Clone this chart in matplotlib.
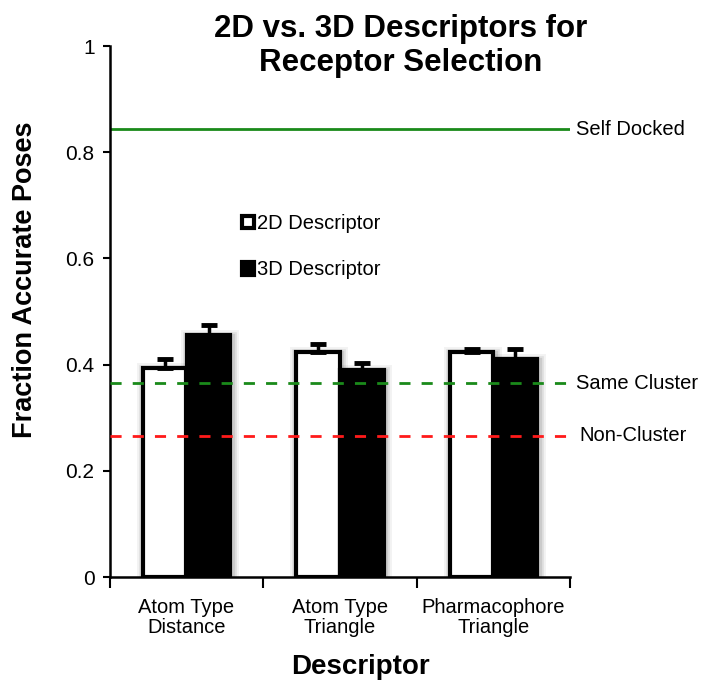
import matplotlib
matplotlib.use("Agg")
import matplotlib.pyplot as plt
from matplotlib.patches import Patch
import numpy as np

plt.rcParams["font.family"] = ["Liberation Sans", "DejaVu Sans"]

categories = ["Atom Type\nDistance", "Atom Type\nTriangle", "Pharmacophore\nTriangle"]
vals_2d = [0.394, 0.424, 0.424]
err_2d = [0.016, 0.015, 0.005]
vals_3d = [0.456, 0.390, 0.410]
err_3d = [0.019, 0.014, 0.019]
self_docked = 0.843
same_cluster = 0.365
non_cluster = 0.266

fig = plt.figure(figsize=(7.04, 6.87), dpi=100)
ax = fig.add_axes([0.156, 0.160, 0.654, 0.773])

x = np.arange(len(categories)) + 0.5
w = 0.285
off = 0.143

# soft shadow behind the bars
for lw, a in [(10, 0.05), (7, 0.07), (4.5, 0.09)]:
    ax.bar(x - off + 0.008, vals_2d, w, bottom=-0.004, color="none", edgecolor="black",
           linewidth=lw, alpha=a, zorder=2)
    ax.bar(x + off + 0.008, vals_3d, w, bottom=-0.004, color="none", edgecolor="black",
           linewidth=lw, alpha=a, zorder=2)

ax.bar(x - off, vals_2d, w, color="white", edgecolor="black", linewidth=3, zorder=3)
ax.bar(x + off, vals_3d, w, color="black", edgecolor="black", linewidth=3, zorder=3)
ax.errorbar(x - off, vals_2d, yerr=[np.zeros(3), err_2d], fmt="none", ecolor="black",
            elinewidth=2.5, capsize=5.5, capthick=3.5, zorder=4)
ax.errorbar(x + off, vals_3d, yerr=[np.zeros(3), err_3d], fmt="none", ecolor="black",
            elinewidth=2.5, capsize=5.5, capthick=3.5, zorder=4)

ax.axhline(self_docked, color="#1a8a1a", linewidth=2, zorder=2)
ax.axhline(same_cluster, color="#1a8a1a", linewidth=2, linestyle=(0, (4, 4)), zorder=5)
ax.axhline(non_cluster, color="#ff1a1a", linewidth=2, linestyle=(0, (4, 4)), zorder=5)
ax.text(1.012, self_docked, "Self Docked", transform=ax.get_yaxis_transform(),
        va="center", ha="left", fontsize=14.5)
ax.text(1.012, same_cluster, "Same Cluster", transform=ax.get_yaxis_transform(),
        va="center", ha="left", fontsize=14.5)
ax.text(1.02, non_cluster, "Non-Cluster", transform=ax.get_yaxis_transform(),
        va="center", ha="left", fontsize=14.5)

ax.set_xlim(0, 3)
ax.set_ylim(0, 1)
ax.set_yticks([0, 0.2, 0.4, 0.6, 0.8, 1])
ax.set_yticklabels(["0", "0.2", "0.4", "0.6", "0.8", "1"], fontsize=15)
ax.set_xticks([0, 1, 2, 3])
ax.set_xticklabels([])
ax.set_xticks(x, minor=True)
ax.set_xticklabels(categories, minor=True, fontsize=14.5, linespacing=1.05)
ax.tick_params(axis="x", which="major", length=8, width=1.5, direction="out")
ax.tick_params(axis="x", which="minor", length=0, pad=15)
ax.tick_params(axis="y", length=5, width=1.5, direction="out", pad=6)
ax.spines[["top", "right"]].set_visible(False)
ax.spines["left"].set_linewidth(1.8)
ax.spines["bottom"].set_linewidth(1.8)

ax.set_ylabel("Fraction Accurate Poses", fontsize=19.5, fontweight="bold")
ax.yaxis.set_label_coords(-0.155, 0.56)
ax.set_xlabel("Descriptor", fontsize=20, fontweight="bold")
ax.xaxis.set_label_coords(0.545, -0.145)
fig.text(0.569, 0.98, "2D vs. 3D Descriptors for\nReceptor Selection", ha="center", va="top",
         fontsize=22.5, fontweight="bold", linespacing=1.2)

handles = [Patch(facecolor="white", edgecolor="black", linewidth=3),
           Patch(facecolor="black", edgecolor="black", linewidth=3)]
ax.legend(handles, ["2D Descriptor", "3D Descriptor"], loc="upper left",
          bbox_to_anchor=(0.247, 0.7175), frameon=False, fontsize=14.5,
          handlelength=0.6, handleheight=0.6, handletextpad=0.15, labelspacing=1.35)

fig.savefig("out.png", dpi=100)
